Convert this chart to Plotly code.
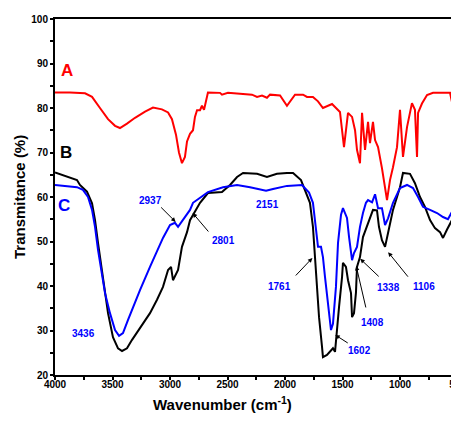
import plotly.graph_objects as go

# Spectrum A (red)
wn_a = [4000, 3870, 3739, 3678, 3609, 3539, 3478, 3435, 3374, 3304, 3217, 3148, 3070, 3017, 2983, 2948,
        2922, 2896, 2870, 2852, 2826, 2800, 2783, 2765, 2739, 2722, 2704, 2687, 2670, 2565, 2548, 2496,
        2391, 2287, 2243, 2200, 2157, 2130, 2043, 1983, 1913, 1843, 1809, 1757, 1713, 1670, 1591, 1522,
        1487, 1452, 1417, 1391, 1374, 1348, 1330, 1304, 1278, 1261, 1235, 1217, 1191, 1157, 1113, 1087,
        1061, 1026, 1000, 974, 939, 896, 870, 852, 843, 809, 765, 713, 565, 539, 522, 504]
t_a = [83.5, 83.5, 83.3, 82.5, 80, 77.5, 76, 75.5, 76.5, 77.8, 79.2, 80.1, 79.7, 79, 77.5, 74,
       70, 67.6, 69, 72.5, 74.2, 75, 78, 79.5, 79.5, 80.5, 79.6, 82, 83.5, 83.4, 83, 83.4,
       83.2, 83, 82.5, 82.8, 82.3, 83, 82.8, 80.5, 83, 83, 82.5, 82.5, 81.5, 80, 80.9, 79.1,
       71.2, 78.9, 78, 75, 70.6, 67.6, 78.9, 70.6, 76.9, 72.1, 76.9, 72.8, 71.2, 66.5, 59.3, 63.8,
       66.7, 71.2, 79.6, 69, 75.7, 81.1, 79.6, 69, 78.9, 81, 82.9, 83.4, 83.4, 80.2, 82, 82.9]

# Spectrum B (black)
wn_b = [4000, 3896, 3809, 3783, 3722, 3678, 3652, 3626, 3591, 3565, 3539, 3496, 3452, 3417, 3374, 3330,
        3261, 3174, 3113, 3061, 3017, 2991, 2974, 2930, 2896, 2852, 2826, 2800, 2739, 2670, 2548, 2478,
        2417, 2365, 2243, 2157, 2070, 1983, 1930, 1861, 1817, 1783, 1757, 1739, 1722, 1704, 1678, 1670,
        1635, 1600, 1583, 1565, 1548, 1530, 1504, 1496, 1470, 1452, 1426, 1417, 1400, 1383, 1374, 1348,
        1322, 1278, 1235, 1200, 1183, 1157, 1130, 1104, 1061, 1000, 974, 913, 870, 826, 783, 739,
        696, 652, 626, 591, 548, 504, 496]
t_b = [65.5, 64.5, 63.8, 62.7, 61.2, 58.6, 54.8, 49.7, 43.6, 38.4, 33.9, 28.5, 26, 25.4, 26, 27.9,
       30.6, 33.9, 36.9, 39.8, 43.6, 44.3, 41.3, 43.6, 48.8, 52.1, 54.8, 56, 58.7, 60.9, 61.1, 62.7,
       64.5, 65.4, 65.2, 64.5, 65.2, 65.4, 65.4, 63.8, 60.9, 58.7, 53.3, 46.5, 39.8, 33, 26.3, 24,
       24.5, 25.6, 26, 25.2, 29.4, 35.3, 42, 45.2, 44.3, 41.3, 38.4, 33, 33.9, 38.5, 44.3, 46.5,
       51, 54.2, 57.1, 57, 53.3, 50.3, 48.8, 51.9, 57.1, 62.2, 65.4, 65.2, 63.1, 60, 57.8, 54.8,
       53, 52.1, 50.8, 52.7, 54.8, 57.8, 62.2]

# Spectrum C (blue)
wn_c = [4000, 3809, 3757, 3713, 3678, 3652, 3626, 3591, 3565, 3522, 3478, 3443, 3409, 3365, 3322, 3261,
        3174, 3113, 3061, 3000, 2957, 2930, 2887, 2826, 2800, 2739, 2670, 2539, 2417, 2304, 2191, 2165,
        2104, 1983, 1852, 1791, 1757, 1730, 1713, 1687, 1670, 1652, 1626, 1600, 1583, 1557, 1539, 1513,
        1496, 1461, 1443, 1417, 1400, 1374, 1348, 1322, 1296, 1278, 1243, 1217, 1191, 1157, 1130, 1104,
        1061, 1000, 939, 887, 843, 800, 739, 678, 626, 583, 539, 504, 496]
t_c = [62.7, 62.2, 61.6, 60, 57.1, 53.3, 48.1, 42.9, 38.4, 33.9, 30.1, 28.8, 29.4, 32.4, 35.3, 39.1,
       44.3, 47.6, 50.8, 53.7, 54.2, 53.3, 54.8, 57.1, 58.7, 59.8, 61.1, 62.2, 62.7, 62.2, 61.6, 61.4,
       61.8, 62.5, 62.7, 61, 58.7, 53.3, 48.8, 48.8, 46.5, 42, 36.2, 30.1, 31.5, 39.8, 49.7, 56,
       57.5, 55.3, 51, 45.8, 47.4, 48.8, 53.3, 56.4, 58.7, 59.3, 58.8, 60.6, 57.5, 57.5, 53.7, 55.2,
       58.7, 62, 62.7, 62, 60, 57.8, 57.1, 56.4, 55.5, 55, 57.1, 60, 61]

# Peak labels: text and label centre (wavenumber, T)
peak_labels = ["2937", "2801", "1761", "1602", "1408", "1338", "1106", "2151", "3436"]
label_wn = [3167, 2534, 2049, 1355, 1242, 1103, 791, 2153, 3748]
label_t = [59.3, 50.3, 40.0, 25.6, 31.7, 39.6, 39.8, 58.4, 29.4]

# Arrows: head (wavenumber, T) and tail offset from head (px)
arrow_wn = [2951, 2803, 1762, 1563, 1381, 1346, 1103]
arrow_t = [54.4, 56.4, 46.3, 29.0, 44.5, 46.1, 47.6]
arrow_dx = [-16, 17, -18, 14, 10, 20, 21]
arrow_dy = [-16, 20, 19, 9, 43, 19, 26]

# Series letters
series_names = ["A", "B", "C"]
series_colors = ["#ff0000", "#000000", "#0000ff"]
letter_wn = [3896, 3904, 3922]
letter_t = [88.5, 69.9, 58.0]

fig = go.Figure()
for wn, t, col in [(wn_a, t_a, series_colors[0]), (wn_b, t_b, series_colors[1]), (wn_c, t_c, series_colors[2])]:
    fig.add_trace(go.Scatter(x=wn, y=t, mode="lines", line=dict(color=col, width=2), showlegend=False,
                             hoverinfo="skip"))

font_fam = "Liberation Sans"
blue_font = dict(family=font_fam, size=10, color="#0000ff", weight="bold")

for x, y, dx, dy in zip(arrow_wn, arrow_t, arrow_dx, arrow_dy):
    fig.add_annotation(x=x, y=y, text="", showarrow=True, ax=dx, ay=dy, arrowhead=2, arrowsize=0.9,
                       arrowwidth=1, arrowcolor="black")
for txt, x, y in zip(peak_labels, label_wn, label_t):
    fig.add_annotation(x=x, y=y, text=txt, showarrow=False, font=blue_font)
for txt, x, y, col in zip(series_names, letter_wn, letter_t, series_colors):
    fig.add_annotation(x=x, y=y, text=txt, showarrow=False,
                       font=dict(family=font_fam, size=17, color=col, weight="bold"))

# page body adds an 8px offset; layout below is in figure pixels
OFF = 8
W, H = 459 - OFF, 426 - OFF
L, R, T, B = 55 - OFF, 459 - OFF, 19 - OFF, 375 - OFF
fig.add_annotation(x=(222 - OFF - L) / (R - L), y=-(403 - OFF - B) / (B - T), xref="paper", yref="paper",
                   xanchor="center", yanchor="middle",
                   text="Wavenumber (cm<sup>-1</sup>)", showarrow=False,
                   font=dict(family=font_fam, size=15, color="black", weight="bold"))
fig.add_annotation(x=-(L - (19 - OFF)) / (R - L), y=0.5, xref="paper", yref="paper", textangle=-90,
                   xanchor="center", yanchor="middle",
                   text="Transmitance (%)", showarrow=False,
                   font=dict(family=font_fam, size=15, color="black", weight="bold"))

tick_font = dict(family=font_fam, size=10, color="black", weight="bold")
fig.update_layout(
    width=W, height=H,
    margin=dict(l=L, r=W - R, t=T, b=H - B, autoexpand=False),
    paper_bgcolor="white", plot_bgcolor="white",
    xaxis=dict(range=[4000, 487], tickvals=[4000, 3500, 3000, 2500, 2000, 1500, 1000, 500],
               ticktext=["4000", "3500", "3000", "2500", "2000", "1500", "1000", "500"],
               automargin=False, ticklabelstandoff=-4, ticklabeloverflow="allow",
               showgrid=False, zeroline=False, showline=True, linecolor="black", linewidth=2,
               mirror=True, ticks="outside", ticklen=3, tickwidth=1.5, tickcolor="black",
               tickfont=tick_font,
               minor=dict(tickvals=[3750, 3250, 2750, 2250, 1750, 1250, 750], ticks="outside",
                          ticklen=3, tickwidth=1.5, tickcolor="black")),
    yaxis=dict(range=[20, 100], tickvals=[20, 30, 40, 50, 60, 70, 80, 90, 100],
               automargin=False,
               showgrid=False, zeroline=False, showline=True, linecolor="black", linewidth=2,
               mirror=False, ticks="outside", ticklen=3, tickwidth=1.5, tickcolor="black",
               tickfont=tick_font,
               minor=dict(tickvals=[25, 35, 45, 55, 65, 75, 85, 95], ticks="outside",
                          ticklen=3, tickwidth=1.5, tickcolor="black")),
)

fig.write_html("out.html")
